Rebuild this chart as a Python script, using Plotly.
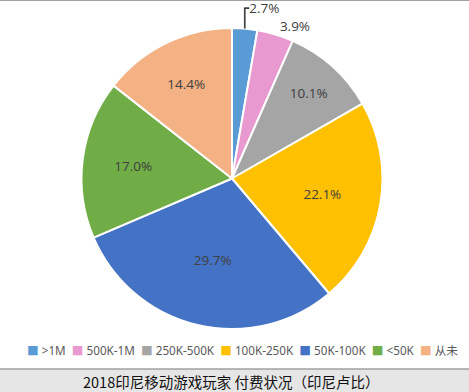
import plotly.graph_objects as go

categories = [">1M", "500K-1M", "250K-500K", "100K-250K", "50K-100K", "<50K", "从未"]
values = [2.7, 3.9, 10.1, 22.1, 29.7, 17.0, 14.4]
colors = ["#5B9BD5", "#E899CF", "#A5A5A5", "#FFC000", "#4472C4", "#70AD47", "#F4B183"]
title_text = "2018印尼移动游戏玩家 付费状况（印尼卢比）"

W, H = 469, 392
cx = 232
dom_top_px = 28
dom_bottom_px = 329
half_w = 170

fig = go.Figure(go.Pie(
    labels=categories,
    values=values,
    sort=False,
    direction="clockwise",
    rotation=0,
    automargin=False,
    marker=dict(colors=colors, line=dict(color="white", width=2)),
    texttemplate="%{value:.1f}%",
    textposition=["outside", "outside", "inside", "inside", "inside", "inside", "inside"],
    insidetextorientation="horizontal",
    textfont=dict(family="Open Sans, Noto Sans CJK SC", size=13.5, color="#404040"),
    outsidetextfont=dict(family="Open Sans, Noto Sans CJK SC", size=13.5, color="#404040"),
    domain=dict(x=[(cx - half_w) / W, (cx + half_w) / W],
                y=[(H - dom_bottom_px) / H, (H - dom_top_px) / H]),
    hoverinfo="label+value",
    showlegend=False,
))

legend_html = "  ".join(
    f"<span style='color:{c}'>■</span> {lab}" for lab, c in zip(categories, colors)
)

fig.update_layout(
    width=W, height=H,
    margin=dict(l=0, r=0, t=0, b=0, autoexpand=False),
    paper_bgcolor="white",
    showlegend=False,
    shapes=[
        dict(type="rect", xref="paper", yref="paper", x0=0, x1=1, y0=0, y1=(H - 369) / H,
             fillcolor="#E6E6E6", line=dict(width=0), layer="below"),
        dict(type="line", xref="paper", yref="paper", x0=0, x1=1, y0=(H - 369) / H, y1=(H - 369) / H,
             line=dict(color="#A0A0A0", width=1.5)),
        dict(type="line", xref="paper", yref="paper", x0=0, x1=1, y0=1, y1=1,
             line=dict(color="#A0A0A0", width=2)),
    ],
    annotations=[
        dict(text=legend_html, xref="paper", yref="paper", x=243 / W, y=(H - 350) / H,
             xanchor="center", yanchor="middle", showarrow=False,
             font=dict(family="Noto Sans, Noto Sans CJK SC", size=11.7, color="#595959")),
        dict(text=title_text, xref="paper", yref="paper", x=231 / W, y=(H - 381) / H,
             xanchor="center", yanchor="middle", showarrow=False,
             font=dict(family="Noto Sans CJK SC", size=14.5, color="#111111")),
    ],
)

fig.write_html("out.html", config={"displayModeBar": False},
               post_script="document.body.style.margin='0px';")
